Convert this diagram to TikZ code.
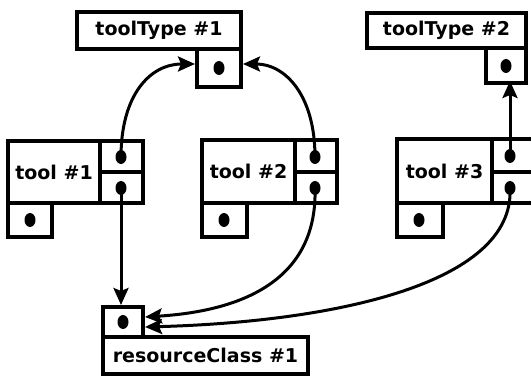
\documentclass[tikz,border=0pt]{standalone}
\usepackage{fontspec}
\setmainfont{DejaVu Sans}
\usetikzlibrary{arrows.meta,shapes.geometric}
\tikzset{
  box/.style={draw, line width=3.4pt, inner sep=0pt, outer sep=0pt, anchor=north west, font=\fontsize{19}{21}\selectfont\bfseries},
  dotn/.style={ellipse, fill=black, draw=none, minimum width=11pt, minimum height=14pt, inner sep=0pt},
  conn/.style={line width=3pt, -{Stealth[length=17pt,width=15pt,inset=3pt]}},
}
\begin{document}
\begin{tikzpicture}[x=1pt,y=-1pt]
\useasboundingbox (0,0) rectangle (531,379);
\clip (0,0) rectangle (531,379);
\fill[white] (0,0) rectangle (531,379);
% toolType #1
\node[box, minimum width=164pt, minimum height=37pt] (tt1) at (77,12) {toolType \#1};
\node[box, minimum width=44pt, minimum height=38pt] (tt1p) at (197,49) {};
\node[dotn] (tt1d) at (219,68) {};
% toolType #2
\node[box, minimum width=159pt, minimum height=35pt] (tt2) at (367,13) {toolType \#2};
\node[box, minimum width=40pt, minimum height=35pt] (tt2p) at (486,48) {};
\node[dotn] (tt2d) at (506,66) {};
% tool #1
\node[box, minimum width=92pt, minimum height=62pt] (t1) at (8,141) {tool \#1};
\node[box, minimum width=43pt, minimum height=31pt] (t1a) at (100,141) {};
\node[box, minimum width=43pt, minimum height=31pt] (t1b) at (100,172) {};
\node[box, minimum width=44pt, minimum height=34pt] (t1c) at (8,203) {};
\node[dotn] (t1ad) at (121,157) {};
\node[dotn] (t1bd) at (121,188) {};
\node[dotn] (t1cd) at (30,220) {};
% tool #2
\node[box, minimum width=93pt, minimum height=63pt] (t2) at (202,140) {tool \#2};
\node[box, minimum width=42pt, minimum height=32pt] (t2a) at (295,140) {};
\node[box, minimum width=42pt, minimum height=31pt] (t2b) at (295,172) {};
\node[box, minimum width=45pt, minimum height=34pt] (t2c) at (202,203) {};
\node[dotn] (t2ad) at (315,157) {};
\node[dotn] (t2bd) at (315,188) {};
\node[dotn] (t2cd) at (224,220) {};
% tool #3
\node[box, minimum width=95pt, minimum height=64pt] (t3) at (397,139) {tool \#3};
\node[box, minimum width=42pt, minimum height=33pt] (t3a) at (492,139) {};
\node[box, minimum width=42pt, minimum height=31pt] (t3b) at (492,172) {};
\node[box, minimum width=46pt, minimum height=34pt] (t3c) at (397,203) {};
\node[dotn] (t3ad) at (510,156) {};
\node[dotn] (t3bd) at (510,188) {};
\node[dotn] (t3cd) at (419,220) {};
% resourceClass #1
\node[box, minimum width=40pt, minimum height=30pt] (rcp) at (103,307) {};
\node[box, minimum width=205pt, minimum height=37pt] (rc) at (103,337) {resourceClass \#1};
\node[dotn] (rcd) at (123,322) {};
% connectors
\coordinate (e1) at (195,64);
\coordinate (e2) at (243,64);
\coordinate (e3) at (510,81);
\coordinate (e4) at (121,305);
\coordinate (e5) at (145,317);
\coordinate (e6) at (145,327);
\draw[conn] (t1ad.center) .. controls (121,95) and (150,64) .. (e1);
\draw[conn] (t2ad.center) .. controls (315,95) and (285,64) .. (e2);
\draw[conn] (t3ad.center) -- (e3);
\draw[conn] (t1bd.center) -- (e4);
\draw[conn] (t2bd.center) .. controls (318,290) and (225,312) .. (e5);
\draw[conn] (t3bd.center) .. controls (515,285) and (330,322) .. (e6);
\end{tikzpicture}
\end{document}
